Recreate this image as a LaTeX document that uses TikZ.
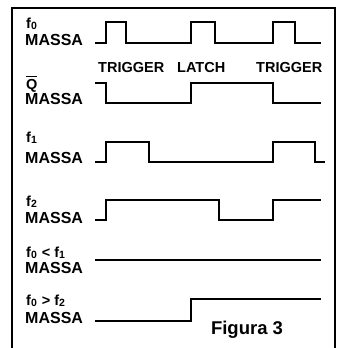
\documentclass[tikz,border=0pt]{standalone}
\usepackage{fontspec}
\setmainfont{Liberation Sans}
\newcommand\lsub[1]{\raisebox{-0.2ex}{\fontsize{10.5}{10.5}\selectfont #1}}
\newcommand\qbar{{\setbox0\hbox{Q}\rlap{\rule[1.15\ht0]{\wd0}{1pt}}Q}}
\begin{document}
\begin{tikzpicture}[x=1pt,y=-1pt,
  wave/.style={line width=1.7pt, line join=miter},
  frame/.style={line width=1.8pt},
  lbl/.style={anchor=base west, inner sep=0pt, font=\bfseries\fontsize{16}{16}\selectfont},
  flbl/.style={anchor=base west, inner sep=0pt, font=\bfseries\fontsize{14.5}{14.5}\selectfont},
  tag/.style={anchor=base west, inner sep=0pt, font=\bfseries\fontsize{14.5}{14.5}\selectfont},
  title/.style={anchor=base, inner sep=0pt, font=\bfseries\fontsize{18.5}{18.5}\selectfont}]
\useasboundingbox (0,0) rectangle (337,348);
\draw[frame] (12,348) -- (12,8) -- (335,8) -- (335,348);
% labels
\node[flbl] (l0a) at (26,28) {f\lsub{0}};
\node[lbl] (l0b) at (25,45) {MASSA};
\node[flbl] (lqa) at (26,89) {\qbar};
\node[lbl] (lqb) at (25,104) {MASSA};
\node[flbl] (l1a) at (26,142) {f\lsub{1}};
\node[lbl] (l1b) at (25,163) {MASSA};
\node[flbl] (l2a) at (26,206) {f\lsub{2}};
\node[lbl] (l2b) at (25,223) {MASSA};
\node[flbl] (l3a) at (26,257) {f\lsub{0}\hspace{5pt}<\hspace{4pt}f\lsub{1}};
\node[lbl] (l3b) at (25,273) {MASSA};
\node[flbl] (l4a) at (26,305) {f\lsub{0}\hspace{5pt}>\hspace{4pt}f\lsub{2}};
\node[lbl] (l4b) at (25,323) {MASSA};
\node[tag] (t1) at (98,72) {TRIGGER};
\node[tag] (t2) at (177,72) {LATCH};
\node[tag] (t3) at (256,72) {TRIGGER};
\node[title] (fig) at (247,334) {Figura 3};
% waveforms
\draw[wave] (95,43) -- (106,43) -- (106,22) -- (126,22) -- (126,43) -- (191,43) -- (191,22) -- (215,22) -- (215,43) -- (273,43) -- (273,22) -- (295,22) -- (295,43) -- (321,43);
\draw[wave] (95,83) -- (106,83) -- (106,103) -- (191,103) -- (191,83) -- (273,83) -- (273,103) -- (321,103);
\draw[wave] (95,162) -- (106,162) -- (106,142) -- (149,142) -- (149,162) -- (273,162) -- (273,142) -- (315,142) -- (315,162) -- (325,162);
\draw[wave] (95,220) -- (106,220) -- (106,200) -- (219,200) -- (219,220) -- (273,220) -- (273,200) -- (321,200);
\draw[wave] (95,260) -- (321,260);
\draw[wave] (95,321) -- (191,321) -- (191,299) -- (321,299);
\end{tikzpicture}
\end{document}
